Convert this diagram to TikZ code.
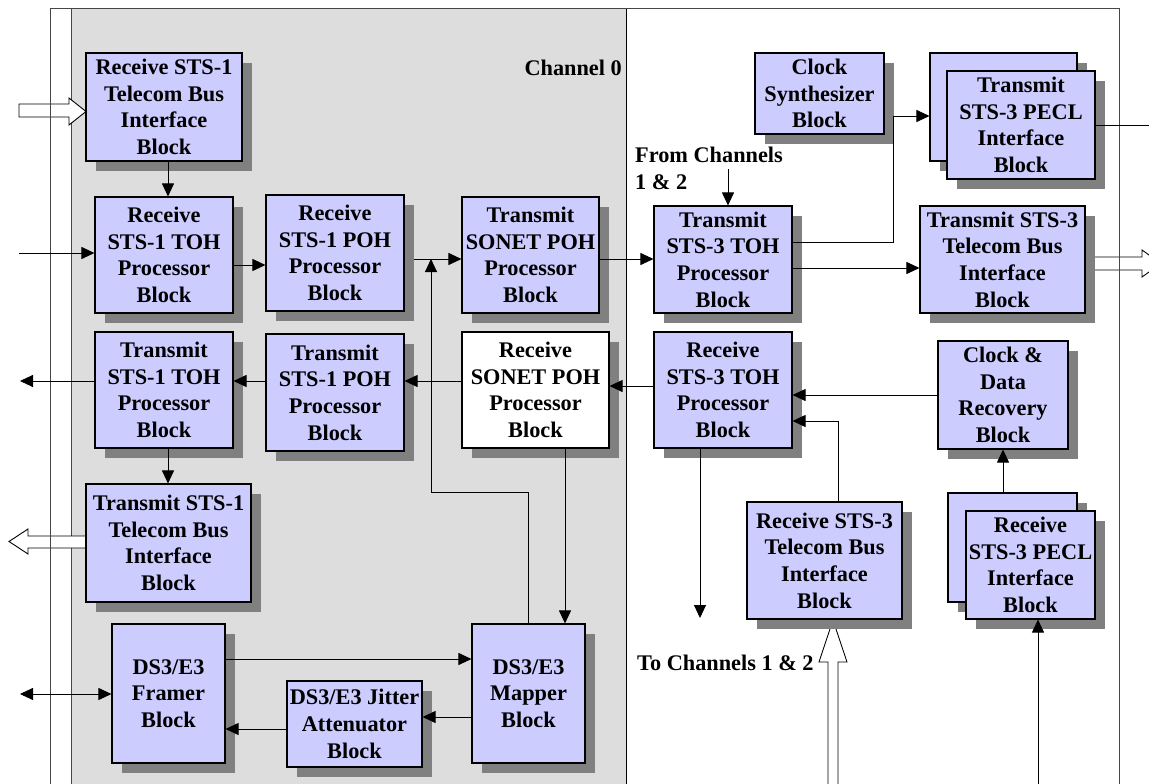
\documentclass[tikz,border=0pt]{standalone}
\usepackage{fontspec}
\setmainfont{Liberation Serif}
\usetikzlibrary{arrows.meta,shadows}
\definecolor{boxfill}{RGB}{204,204,255}
\definecolor{shadowgray}{RGB}{128,128,128}
\definecolor{chgray}{RGB}{221,221,221}
\definecolor{framegray}{RGB}{70,70,70}
\tikzset{
  blk/.style={draw=black, line width=1.1pt, fill=boxfill, align=center, inner sep=0pt,
     font=\fontsize{22.3}{26.7}\selectfont\bfseries,
     general shadow={fill=shadowgray, shadow xshift=10pt, shadow yshift=-10pt}},
  wblk/.style={blk, fill=white},
  conn/.style={line width=0.9pt, -{Triangle[length=13pt,width=12pt]}},
  dconn/.style={line width=0.9pt, {Triangle[length=13pt,width=12pt]}-{Triangle[length=13pt,width=12pt]}},
  hollow/.style={draw=black, line width=0.9pt, fill=white},
  lbl/.style={font=\fontsize{22.3}{26.7}\selectfont\bfseries, inner sep=0pt, align=left},
}
\begin{document}
\begin{tikzpicture}[x=1pt,y=-1pt]
\useasboundingbox (0,0) rectangle (1149,784);
\clip (0,0) rectangle (1149,784);
\fill[white] (0,0) rectangle (1149,784);
% channel region
\fill[chgray] (71,9) rectangle (626,800);
\draw[framegray, line width=1pt] (71,800) -- (71,9);
\draw[black, line width=1pt] (626,9) -- (626,800);
% hollow arrows
\draw[hollow] (19,104) -- (69,104) -- (69,98) -- (86,111.5) -- (69,125) -- (69,117) -- (19,117) -- cycle;
\draw[hollow] (86,536) -- (28,536) -- (28,529) -- (9,541.5) -- (28,554) -- (28,548) -- (86,548) -- cycle;
\draw[hollow] (1085,257) -- (1142,257) -- (1142,250) -- (1161,263.5) -- (1142,277) -- (1142,270) -- (1085,270) -- cycle;
\draw[hollow] (828,800) -- (828,662) -- (819,662) -- (833,620) -- (847,662) -- (838,662) -- (838,800) -- cycle;
% outer frame
\draw[framegray, line width=1pt] (50,800) -- (50,9) -- (1119,9) -- (1119,800);

% labels
\node[lbl, anchor=east] (ch0) at (622,68) {Channel 0};
\node[lbl, anchor=west] (fromch) at (635,168.5) {From Channels\\1 \& 2};
\node[lbl, anchor=west] (toch) at (637,663) {To Channels 1 \& 2};

% blocks
\node[blk, minimum width=156pt, minimum height=108pt] (rxbus1) at (164,107) {Receive STS-1\\Telecom Bus\\Interface\\Block};
\node[blk, minimum width=138pt, minimum height=116pt] (rxtoh1) at (164,255) {Receive\\STS-1 TOH\\Processor\\Block};
\node[blk, minimum width=138pt, minimum height=116pt] (rxpoh1) at (335,253) {Receive\\STS-1 POH\\Processor\\Block};
\node[blk, minimum width=137pt, minimum height=116pt] (txsonet) at (530.5,255) {Transmit\\SONET POH\\Processor\\Block};
\node[blk, minimum width=138pt, minimum height=107pt] (txtoh3) at (723,259.5) {Transmit\\STS-3 TOH\\Processor\\Block};
\node[wblk, minimum width=147pt, minimum height=116pt] (rxsonet) at (535.5,390) {Receive\\SONET POH\\Processor\\Block};
\node[blk, minimum width=138pt, minimum height=116pt] (rxtoh3) at (723,390) {Receive\\STS-3 TOH\\Processor\\Block};
\node[blk, minimum width=138pt, minimum height=116pt] (txtoh1) at (164,390) {Transmit\\STS-1 TOH\\Processor\\Block};
\node[blk, minimum width=138pt, minimum height=117pt] (txpoh1) at (335,392.5) {Transmit\\STS-1 POH\\Processor\\Block};
\node[blk, minimum width=165pt, minimum height=118pt] (txbus1) at (168.5,543) {Transmit STS-1\\Telecom Bus\\Interface\\Block};
\node[blk, minimum width=113pt, minimum height=139pt] (framer) at (168.5,693.5) {DS3/E3\\Framer\\Block};
\node[blk, minimum width=135pt, minimum height=86pt] (jitter) at (354.5,724) {DS3/E3 Jitter\\Attenuator\\Block};
\node[blk, minimum width=113pt, minimum height=139pt] (mapper) at (528.5,693.5) {DS3/E3\\Mapper\\Block};
\node[blk, minimum width=129pt, minimum height=81pt] (clk) at (819.5,93.5) {Clock\\Synthesizer\\Block};
\node[blk, minimum width=147pt, minimum height=108pt] (txpeclB) at (1003.5,107) {};
\node[blk, minimum width=148pt, minimum height=108pt] (txpeclF) at (1021,125) {Transmit\\STS-3 PECL\\Interface\\Block};
\node[blk, minimum width=165pt, minimum height=107pt] (txbus3) at (1002.5,259.5) {Transmit STS-3\\Telecom Bus\\Interface\\Block};
\node[blk, minimum width=130pt, minimum height=108pt] (cdr) at (1003,395) {Clock \&\\Data\\Recovery\\Block};
\node[blk, minimum width=129pt, minimum height=109pt] (rxpeclB) at (1012.5,547.5) {};
\node[blk, minimum width=129pt, minimum height=108pt] (rxpeclF) at (1030.5,565) {Receive\\STS-3 PECL\\Interface\\Block};
\node[blk, minimum width=155pt, minimum height=117pt] (rxbus3) at (824.5,560.5) {Receive STS-3\\Telecom Bus\\Interface\\Block};

% helper coordinates
\coordinate (colL) at (168,0);
\coordinate (inA) at (19,253);
\coordinate (lvRx) at (0,265);
\coordinate (j1) at (431,259);
\coordinate (j2) at (431,492);
\coordinate (j3) at (528,492);
\coordinate (fc) at (728,169);
\coordinate (lvA) at (0,242);
\coordinate (jc) at (893,116);
\coordinate (lvB) at (0,268);
\coordinate (outP) at (1164,125);
\coordinate (lvC) at (0,386);
\coordinate (lvD) at (0,381);
\coordinate (outT) at (20,381);
\coordinate (dA) at (20,694);
\coordinate (lvE) at (0,659);
\coordinate (lvF) at (0,717);
\coordinate (lvG) at (0,729);
\coordinate (cW) at (565,0);
\coordinate (dn) at (700,618);
\coordinate (zc) at (838,421);
\coordinate (bot2) at (1038,790);
\coordinate (rp1) at (414,259);

% connectors
\draw[conn] (rxbus1.south -| colL) -- (rxtoh1.north -| colL);
\draw[conn] (inA) -- (inA -| rxtoh1.west);
\draw[conn] (rxtoh1.east |- lvRx) -- (rxpoh1.west |- lvRx);
\draw[conn] (rp1) -- (txsonet.west |- j1);
\draw[conn] (mapper.north -| j3) -- (j3) -- (j2) -- (j1);
\draw[conn] (txsonet.east |- j1) -- (txtoh3.west |- j1);
\draw[conn] (fc) -- (fc |- txtoh3.north);
\draw[conn] (txtoh3.east |- lvA) -| (jc) -- (txpeclB.west |- jc);
\draw[conn] (txtoh3.east |- lvB) -- (txbus3.west |- lvB);
\draw[conn] (txpeclF.east |- outP) -- (outP);
\draw[conn] (rxtoh3.west |- lvC) -- (rxsonet.east |- lvC);
\draw[conn] (rxsonet.west |- lvD) -- (txpoh1.east |- lvD);
\draw[conn] (txpoh1.west |- lvD) -- (txtoh1.east |- lvD);
\draw[conn] (txtoh1.west |- lvD) -- (outT);
\draw[conn] (txtoh1.south -| colL) -- (txbus1.north -| colL);
\draw[dconn] (dA) -- (dA -| framer.west);
\draw[conn] (framer.east |- lvE) -- (mapper.west |- lvE);
\draw[conn] (mapper.west |- lvF) -- (jitter.east |- lvF);
\draw[conn] (jitter.west |- lvG) -- (framer.east |- lvG);
\draw[conn] (rxsonet.south -| cW) -- (mapper.north -| cW);
\draw[conn] (rxtoh3.south -| dn) -- (dn);
\draw[conn] (cdr.west) -- (cdr.west -| rxtoh3.east);
\draw[conn] (rxbus3.north -| zc) -- (zc) -- (zc -| rxtoh3.east);
\draw[conn] (cdr.south |- rxpeclB.north) -- (cdr.south);
\draw[conn] (bot2) -- (bot2 |- rxpeclF.south);
\end{tikzpicture}
\end{document}
